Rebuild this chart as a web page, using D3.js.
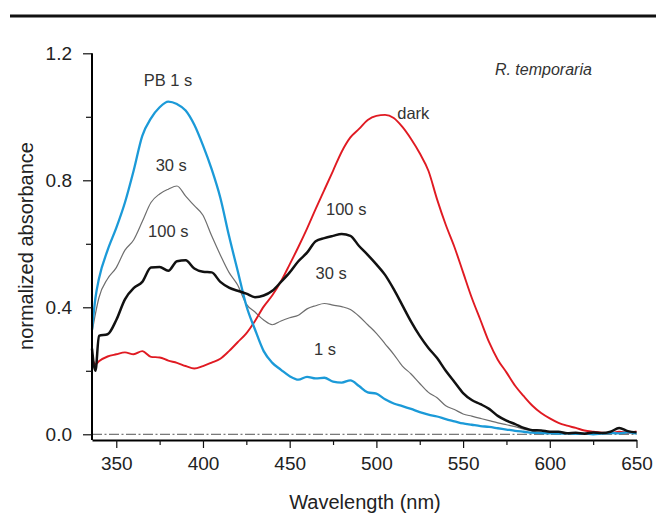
<!DOCTYPE html>
<html>
<head>
<meta charset="utf-8">
<script src="https://cdn.jsdelivr.net/npm/d3@7"></script>
<style>
  body { margin: 0; background: #fff; }
  svg { display: block; font-family: "Liberation Sans", Arial, sans-serif; }
</style>
</head>
<body>
<svg id="chart" width="656" height="515"></svg>
<script>
// wavelength grid (nm) shared by all spectra
const wavelengths = [336, 338, 340, 345, 350, 355, 360, 365, 370, 375,
  380, 385, 390, 395, 400, 405, 410, 415, 420, 425,
  430, 435, 440, 445, 450, 455, 460, 465, 470, 475,
  480, 485, 490, 495, 500, 505, 510, 515, 520, 525,
  530, 535, 540, 545, 550, 555, 560, 565, 570, 575,
  580, 585, 590, 595, 600, 605, 610, 615, 620, 625,
  630, 635, 640, 645, 650];

// normalized absorbance
const darkValues = [0.24, 0.22, 0.23, 0.245, 0.252, 0.258, 0.252, 0.262, 0.244, 0.242,
  0.232, 0.225, 0.215, 0.207, 0.215, 0.226, 0.238, 0.262, 0.29, 0.318,
  0.357, 0.402, 0.438, 0.482, 0.535, 0.59, 0.648, 0.71, 0.77, 0.83,
  0.89, 0.935, 0.962, 0.99, 1.003, 1.006, 0.996, 0.968, 0.93, 0.885,
  0.83, 0.74, 0.66, 0.59, 0.51, 0.43, 0.36, 0.29, 0.235, 0.195,
  0.153, 0.12, 0.09, 0.067, 0.05, 0.036, 0.027, 0.02, 0.012, 0.008,
  0.005, 0.004, 0.008, 0.005, 0.009];

const pb1sValues = [0.33, 0.43, 0.49, 0.58, 0.65, 0.73, 0.83, 0.94, 0.995, 1.03,
  1.048, 1.04, 1.02, 0.975, 0.91, 0.835, 0.745, 0.625, 0.515, 0.405,
  0.33, 0.262, 0.225, 0.203, 0.183, 0.172, 0.181, 0.176, 0.178, 0.166,
  0.163, 0.17, 0.152, 0.132, 0.128, 0.11, 0.097, 0.089, 0.08, 0.07,
  0.062, 0.056, 0.048, 0.041, 0.034, 0.03, 0.026, 0.023, 0.019, 0.015,
  0.011, 0.008, 0.005, 0.004, 0.003, 0.002, 0.003, 0.001, 0.002, 0.0,
  0.002, 0.004, 0.003, 0.006, 0.002];

const s30Values = [0.32, 0.38, 0.43, 0.49, 0.525, 0.58, 0.612, 0.67, 0.73, 0.757,
  0.772, 0.782, 0.75, 0.72, 0.69, 0.625, 0.565, 0.51, 0.47, 0.41,
  0.385, 0.36, 0.345, 0.357, 0.367, 0.375, 0.395, 0.405, 0.412, 0.407,
  0.402, 0.393, 0.372, 0.345, 0.318, 0.285, 0.252, 0.215, 0.19, 0.16,
  0.132, 0.115, 0.09, 0.078, 0.064, 0.057, 0.05, 0.043, 0.036, 0.03,
  0.024, 0.016, 0.01, 0.005, 0.004, 0.006, 0.003, 0.004, 0.002, 0.005,
  0.003, 0.006, 0.004, 0.008, 0.004];

const s100Values = [0.27, 0.20, 0.31, 0.315, 0.36, 0.425, 0.46, 0.48, 0.525, 0.527,
  0.515, 0.545, 0.548, 0.522, 0.512, 0.51, 0.48, 0.462, 0.452, 0.443,
  0.432, 0.437, 0.452, 0.48, 0.51, 0.545, 0.572, 0.608, 0.618, 0.625,
  0.631, 0.625, 0.593, 0.565, 0.535, 0.502, 0.457, 0.406, 0.355, 0.31,
  0.272, 0.24, 0.2, 0.165, 0.13, 0.108, 0.095, 0.08, 0.058, 0.043,
  0.032, 0.02, 0.013, 0.012, 0.008, 0.008, 0.003, 0.005, 0.002, 0.006,
  0.004, 0.008, 0.02, 0.01, 0.006];

const xMajorTicks = [350, 400, 450, 500, 550, 600, 650];
const xMinorTicks = [375, 425, 475, 525, 575, 625];
const yMajorTicks = [0, 0.4, 0.8, 1.2];
const yMinorTicks = [0.2, 0.6, 1.0];

// curve labels, anchored in data units (nm, absorbance)
const labels = [
  { text: 'PB 1 s', nm: 379.8, v: 1.097 },
  { text: '30 s', nm: 381.7, v: 0.829 },
  { text: '100 s', nm: 380, v: 0.622 },
  { text: 'dark', nm: 521.3, v: 0.992 },
  { text: '100 s', nm: 482.6, v: 0.691 },
  { text: '30 s', nm: 473.9, v: 0.489 },
  { text: '1 s', nm: 470.4, v: 0.25 }
];

const series = [
  { name: '30 s', values: s30Values, color: '#6e6e6e', width: 1.2 },
  { name: 'dark', values: darkValues, color: '#e01a22', width: 1.9 },
  { name: 'PB 1 s', values: pb1sValues, color: '#1b9ad8', width: 2.3 },
  { name: '100 s', values: s100Values, color: '#111111', width: 2.5 }
];

const svg = d3.select('#chart');

const x = d3.scaleLinear().domain([336, 650]).range([92, 636.5]);
const y = d3.scaleLinear().domain([-0.018, 1.2]).range([440, 53.3]);

// rule across the top of the figure
svg.append('line')
  .attr('x1', 10).attr('x2', 656)
  .attr('y1', 16).attr('y2', 16)
  .attr('stroke', '#111').attr('stroke-width', 3);

// zero baseline (dash-dot)
svg.append('line')
  .attr('x1', x(336)).attr('x2', x(650))
  .attr('y1', y(0)).attr('y2', y(0))
  .attr('stroke', '#555').attr('stroke-width', 1)
  .attr('stroke-dasharray', '10,2.5,2,2.5');

const line = d3.line()
  .x((d, i) => x(wavelengths[i]))
  .y(d => y(d))
  .curve(d3.curveMonotoneX);

svg.selectAll('.spectrum')
  .data(series)
  .enter()
  .append('path')
  .attr('class', 'spectrum')
  .attr('d', d => line(d.values))
  .attr('fill', 'none')
  .attr('stroke', d => d.color)
  .attr('stroke-width', d => d.width)
  .attr('stroke-linejoin', 'round');

// x axis, major + minor ticks
const xAxis = svg.append('g')
  .attr('transform', 'translate(0,' + y.range()[0] + ')')
  .call(d3.axisBottom(x).tickValues(xMajorTicks).tickSize(8).tickSizeOuter(0).tickPadding(9));
xAxis.select('.domain').attr('stroke-width', 2);
svg.append('g')
  .attr('transform', 'translate(0,' + y.range()[0] + ')')
  .call(d3.axisBottom(x).tickValues(xMinorTicks).tickSize(5).tickFormat(''))
  .select('.domain').remove();

// y axis, major + minor ticks
const yAxis = svg.append('g')
  .attr('transform', 'translate(' + x.range()[0] + ',0)')
  .call(d3.axisLeft(y).tickValues(yMajorTicks).tickSize(9).tickSizeOuter(0).tickPadding(11)
    .tickFormat(d3.format('.1f')));
yAxis.select('.domain').attr('stroke-width', 2).attr('d', 'M0,' + y(1.2) + 'V' + y.range()[0]);
svg.append('g')
  .attr('transform', 'translate(' + x.range()[0] + ',0)')
  .call(d3.axisLeft(y).tickValues(yMinorTicks).tickSize(6).tickFormat(''))
  .select('.domain').remove();

svg.selectAll('.tick line').attr('stroke', '#111').attr('stroke-width', 1.2);
svg.selectAll('.tick text')
  .style('font-size', '19px')
  .style('font-family', '"Liberation Sans", Arial, sans-serif')
  .attr('fill', '#222');

// axis titles
svg.append('text')
  .attr('x', 365).attr('y', 509)
  .attr('text-anchor', 'middle')
  .style('font-size', '20px')
  .attr('fill', '#222')
  .text('Wavelength (nm)');

svg.append('text')
  .attr('transform', 'translate(33,246) rotate(-90)')
  .attr('text-anchor', 'middle')
  .style('font-size', '20px')
  .attr('fill', '#222')
  .text('normalized absorbance');

// curve labels
svg.selectAll('.curve-label')
  .data(labels)
  .enter()
  .append('text')
  .attr('class', 'curve-label')
  .attr('x', d => x(d.nm))
  .attr('y', d => y(d.v))
  .attr('text-anchor', 'middle')
  .style('font-size', '16.5px')
  .attr('fill', '#333')
  .text(d => d.text);

svg.append('text')
  .attr('x', x(596.3)).attr('y', y(1.133))
  .attr('text-anchor', 'middle')
  .style('font-size', '16px')
  .style('font-style', 'italic')
  .attr('fill', '#333')
  .text('R. temporaria');
</script>
</body>
</html>
